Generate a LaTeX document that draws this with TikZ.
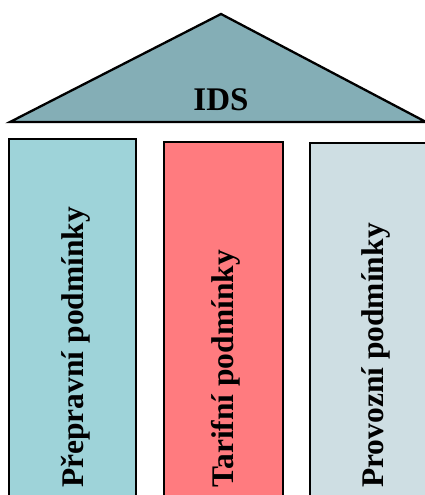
\documentclass[tikz,border=0pt]{standalone}
\usepackage{fontspec}
\setmainfont{Liberation Serif}
\definecolor{roofc}{RGB}{132,174,182}
\definecolor{colA}{RGB}{158,211,217}
\definecolor{colB}{RGB}{255,123,127}
\definecolor{colC}{RGB}{206,222,227}
\tikzset{
  edge/.style={draw=black, line width=2.3pt, line join=miter},
  lbl/.style={font=\fontsize{33}{36}\selectfont\bfseries, inner sep=0pt},
  vlbl/.style={font=\fontsize{31.5}{34}\selectfont\bfseries, inner sep=0pt, rotate=90, anchor=base west}
}
\begin{document}
\begin{tikzpicture}[x=1pt,y=-1pt]
\useasboundingbox (0,0) rectangle (425,495);
\clip (0,0) rectangle (425,495);
\fill[white] (0,0) rectangle (425,495);
% roof
\coordinate (apex) at (221,14);
\coordinate (bl) at (10,122);
\coordinate (br) at (426,122);
\path[edge, fill=roofc] (bl) -- (apex) -- (br) -- cycle;
\node[lbl] (ids) at (221,100) {IDS};
% pillars
\path[edge, fill=colA] (9,515) |- (136,139) -- (136,515);
\path[edge, fill=colB] (164,515) |- (283,142) -- (283,515);
\path[edge, fill=colC] (310,515) |- (440,143) -- (440,515);
\node[vlbl] (p1) at (83,488) {Přepravní podmínky};
\node[vlbl] (p2) at (233,488) {Tarifní podmínky};
\node[vlbl] (p3) at (383,488) {Provozní podmínky};
\end{tikzpicture}
\end{document}
